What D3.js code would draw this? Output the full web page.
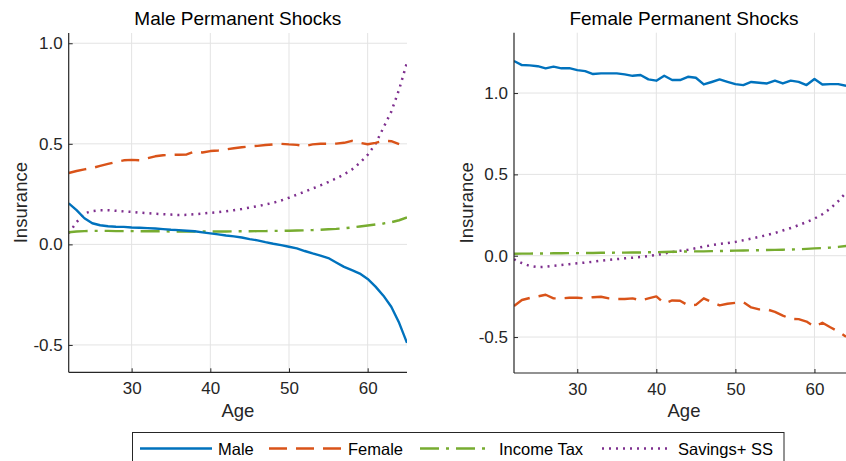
<!DOCTYPE html>
<html>
<head>
<meta charset="utf-8">
<script src="https://cdn.jsdelivr.net/npm/d3@7/dist/d3.min.js"></script>
<style>
  html, body { margin: 0; padding: 0; background: #fff; }
  svg { display: block; font-family: "Liberation Sans", Arial, Helvetica, sans-serif; }
</style>
</head>
<body>
<svg id="chart" width="846" height="461"></svg>
<script>
// Ages covered by each series
const agesMale = d3.range(22, 66);   // 22..65
const agesFemale = d3.range(22, 65); // 22..64

// Male permanent shocks panel
const maleMale = [0.204, 0.170, 0.130, 0.105, 0.095, 0.090, 0.088, 0.087, 0.084, 0.083,
  0.081, 0.079, 0.076, 0.073, 0.071, 0.068, 0.065, 0.060, 0.055, 0.050,
  0.044, 0.040, 0.034, 0.026, 0.020, 0.011, 0.003, -0.004, -0.012, -0.020,
  -0.033, -0.045, -0.056, -0.068, -0.090, -0.112, -0.128, -0.145, -0.172, -0.210,
  -0.255, -0.310, -0.390, -0.490];
const maleFemale = [0.355, 0.365, 0.373, 0.380, 0.390, 0.400, 0.410, 0.418, 0.420, 0.418,
  0.428, 0.438, 0.443, 0.445, 0.446, 0.447, 0.462, 0.457, 0.464, 0.467,
  0.472, 0.478, 0.483, 0.487, 0.490, 0.494, 0.497, 0.500, 0.497, 0.495,
  0.488, 0.497, 0.500, 0.500, 0.501, 0.505, 0.515, 0.505, 0.498, 0.505,
  0.515, 0.513, 0.498];
const maleTax = [0.060, 0.064, 0.066, 0.067, 0.067, 0.067, 0.066, 0.066, 0.066, 0.065,
  0.065, 0.065, 0.065, 0.064, 0.064, 0.064, 0.064, 0.064, 0.064, 0.064,
  0.064, 0.065, 0.065, 0.065, 0.066, 0.066, 0.067, 0.067, 0.068, 0.069,
  0.070, 0.071, 0.073, 0.075, 0.077, 0.080, 0.084, 0.089, 0.094, 0.099,
  0.104, 0.110, 0.120, 0.134];
const maleSavings = [0.055, 0.110, 0.155, 0.165, 0.170, 0.170, 0.167, 0.164, 0.162, 0.158,
  0.155, 0.152, 0.150, 0.148, 0.146, 0.147, 0.150, 0.153, 0.157, 0.160,
  0.165, 0.170, 0.176, 0.183, 0.190, 0.198, 0.207, 0.218, 0.232, 0.247,
  0.262, 0.278, 0.293, 0.310, 0.328, 0.348, 0.372, 0.405, 0.445, 0.500,
  0.580, 0.660, 0.770, 0.905];

// Female permanent shocks panel
const femaleMale = [1.197, 1.172, 1.170, 1.165, 1.152, 1.162, 1.152, 1.153, 1.141, 1.135,
  1.117, 1.121, 1.121, 1.121, 1.115, 1.106, 1.111, 1.084, 1.076, 1.106,
  1.080, 1.080, 1.100, 1.094, 1.053, 1.068, 1.084, 1.069, 1.055, 1.049,
  1.068, 1.063, 1.059, 1.076, 1.059, 1.076, 1.069, 1.049, 1.086, 1.053,
  1.055, 1.055, 1.045];
const femaleFemale = [-0.309, -0.272, -0.260, -0.250, -0.240, -0.262, -0.262, -0.258, -0.258, -0.262,
  -0.255, -0.252, -0.262, -0.266, -0.266, -0.262, -0.275, -0.262, -0.250, -0.293,
  -0.275, -0.277, -0.305, -0.302, -0.262, -0.285, -0.305, -0.295, -0.290, -0.285,
  -0.318, -0.330, -0.330, -0.345, -0.368, -0.388, -0.390, -0.405, -0.436, -0.412,
  -0.440, -0.465, -0.498];
const femaleTax = [0.012, 0.013, 0.013, 0.014, 0.014, 0.015, 0.015, 0.016, 0.016, 0.017,
  0.017, 0.018, 0.018, 0.019, 0.019, 0.020, 0.020, 0.021, 0.022, 0.023,
  0.024, 0.025, 0.026, 0.027, 0.027, 0.028, 0.029, 0.030, 0.031, 0.032,
  0.033, 0.034, 0.035, 0.036, 0.037, 0.038, 0.040, 0.042, 0.045, 0.047,
  0.050, 0.054, 0.060];
const femaleSavings = [-0.022, -0.045, -0.063, -0.070, -0.068, -0.062, -0.057, -0.052, -0.047, -0.042,
  -0.037, -0.031, -0.026, -0.021, -0.016, -0.012, -0.008, -0.002, 0.004, 0.013,
  0.023, 0.030, 0.037, 0.046, 0.056, 0.065, 0.072, 0.078, 0.085, 0.095,
  0.105, 0.116, 0.127, 0.140, 0.155, 0.170, 0.188, 0.207, 0.228, 0.255,
  0.290, 0.335, 0.388];

// Axis ticks
const xTicks = [30, 40, 50, 60];
const yTicks = [-0.5, 0, 0.5, 1.0];
const yTickLabels = ["-0.5", "0.0", "0.5", "1.0"];

const seriesNames = ["Male", "Female", "Income Tax", "Savings+ SS"];
const colors = ["#0072BD", "#D95319", "#77AC30", "#7E2F8E"];
const dashes = [null, "18,9", "19,7,3,7", "2,5"];

const panels = [
  { title: "Male Permanent Shocks", x0: 68.7, x1: 407, y0: 33, y1: 372.3,
    yDomain: [-0.636, 1.051], labelX: 27,
    series: [[agesMale, maleMale], [agesFemale, maleFemale], [agesMale, maleTax], [agesMale, maleSavings]] },
  { title: "Female Permanent Shocks", x0: 514, x1: 854, y0: 32.7, y1: 373,
    yDomain: [-0.721, 1.371], labelX: 473,
    series: [[agesFemale, femaleMale], [agesFemale, femaleFemale], [agesFemale, femaleTax], [agesFemale, femaleSavings]] }
];

const svg = d3.select("#chart");
const axisColor = "#262626";

panels.forEach((p, pi) => {
  const x = d3.scaleLinear().domain([22, 65]).range([p.x0, p.x1]);
  const y = d3.scaleLinear().domain(p.yDomain).range([p.y1, p.y0]);
  const g = svg.append("g");

  // grid
  g.append("g").selectAll("line").data(xTicks).join("line")
    .attr("x1", d => x(d)).attr("x2", d => x(d))
    .attr("y1", p.y0).attr("y2", p.y1)
    .attr("stroke", "#e3e3e3").attr("stroke-width", 1);
  g.append("g").selectAll("line").data(yTicks).join("line")
    .attr("x1", p.x0).attr("x2", p.x1)
    .attr("y1", d => y(d)).attr("y2", d => y(d))
    .attr("stroke", "#e3e3e3").attr("stroke-width", 1);

  // clip for data
  svg.append("clipPath").attr("id", "clip" + pi).append("rect")
    .attr("x", p.x0).attr("y", p.y0).attr("width", p.x1 - p.x0).attr("height", p.y1 - p.y0);

  const line = d3.line().x(d => x(d[0])).y(d => y(d[1]));
  const lines = g.append("g").attr("clip-path", `url(#clip${pi})`);
  // draw in reverse so the solid line sits on top
  [3, 2, 1, 0].forEach(si => {
    const [ages, vals] = p.series[si];
    lines.append("path")
      .datum(ages.map((a, i) => [a, vals[i]]))
      .attr("d", line)
      .attr("fill", "none")
      .attr("stroke", colors[si])
      .attr("stroke-width", si === 3 ? 2.5 : 2.4)
      .attr("stroke-linejoin", "round")
      .attr("stroke-dasharray", dashes[si]);
  });

  // axes
  const xAxis = d3.axisBottom(x).tickValues(xTicks).tickFormat(d3.format("d"))
    .tickSizeInner(-4).tickSizeOuter(0).tickPadding(10);
  const gx = g.append("g").attr("transform", `translate(0,${p.y1})`).call(xAxis);
  const yAxis = d3.axisLeft(y).tickValues(yTicks).tickFormat((d, i) => yTickLabels[i])
    .tickSizeInner(-4).tickSizeOuter(0).tickPadding(6);
  const gy = g.append("g").attr("transform", `translate(${p.x0},0)`).call(yAxis);
  [gx, gy].forEach(a => {
    a.select(".domain").attr("stroke", axisColor).attr("stroke-width", 1.2);
    a.selectAll(".tick line").attr("stroke", axisColor);
    a.selectAll(".tick text").attr("fill", axisColor).attr("font-size", 17)
      .attr("font-family", "Liberation Sans, Arial, sans-serif");
  });
  gy.select(".domain").attr("d", `M0,${p.y0}V${p.y1}`);
  gx.select(".domain").attr("d", `M${p.x0},0H${p.x1}`);

  // titles and labels
  g.append("text").attr("x", (p.x0 + p.x1) / 2).attr("y", 25)
    .attr("text-anchor", "middle").attr("font-size", 19).attr("fill", "#000")
    .text(p.title);
  g.append("text").attr("x", (p.x0 + p.x1) / 2).attr("y", 417)
    .attr("text-anchor", "middle").attr("font-size", 18.5).attr("fill", axisColor)
    .text("Age");
  g.append("text")
    .attr("transform", `translate(${p.labelX},${(p.y0 + p.y1) / 2}) rotate(-90)`)
    .attr("text-anchor", "middle").attr("font-size", 18.5).attr("fill", axisColor)
    .text("Insurance");
});

// legend
const legendItems = [
  { x1: 140, x2: 212, tx: 218 },
  { x1: 269, x2: 342, tx: 348 },
  { x1: 420, x2: 492, tx: 499 },
  { x1: 602, x2: 669, tx: 678 }
];
const lg = svg.append("g");
lg.append("rect").attr("x", 132.5).attr("y", 432.5).attr("width", 651.5).attr("height", 40)
  .attr("fill", "#fff").attr("stroke", axisColor).attr("stroke-width", 1);
lg.selectAll("line").data(legendItems).join("line")
  .attr("x1", d => d.x1).attr("x2", d => d.x2).attr("y1", 448.5).attr("y2", 448.5)
  .attr("stroke", (d, i) => colors[i]).attr("stroke-width", (d, i) => i === 3 ? 2.5 : 2.4)
  .attr("stroke-dasharray", (d, i) => dashes[i]);
lg.selectAll("text").data(legendItems).join("text")
  .attr("x", d => d.tx).attr("y", 454.5)
  .attr("font-size", 16.5).attr("fill", "#000")
  .text((d, i) => seriesNames[i]);
</script>
</body>
</html>
